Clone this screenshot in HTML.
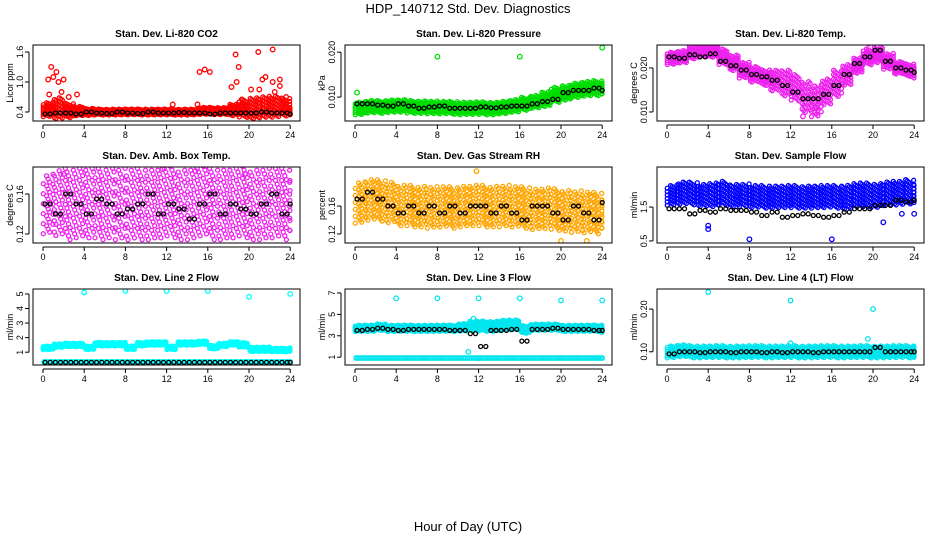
<!DOCTYPE html>
<html><head><meta charset="utf-8"><style>
body{margin:0;background:#fff;}
svg{display:block;font-family:"Liberation Sans",sans-serif;}
</style></head><body>
<svg id="c" width="936" height="540">
<text x="468" y="13" text-anchor="middle" font-size="13">HDP_140712 Std. Dev. Diagnostics</text>
<text x="468" y="531" text-anchor="middle" font-size="13">Hour of Day (UTC)</text>
</svg>
<script>
const hours=[0,1,2,3,4,5,6,7,8,9,10,11,12,13,14,15,16,17,18,19,20,21,22,23,24];
const titles=["Stan. Dev. Li-820 CO2","Stan. Dev. Li-820 Pressure","Stan. Dev. Li-820 Temp.","Stan. Dev. Amb. Box Temp.","Stan. Dev. Gas Stream RH","Stan. Dev. Sample Flow","Stan. Dev. Line 2 Flow","Stan. Dev. Line 3 Flow","Stan. Dev. Line 4 (LT) Flow"];
const ylabels=["Licor ppm","kPa","degrees C","degrees C","percent","ml/min","ml/min","ml/min","ml/min"];
const colors=["#ff0000","#00dd00","#ee22ee","#ee22ee","#ffa500","#0000ff","#00ffff","#00e5ee","#00e5ee"];
const ydomains=[[0.22,1.74],[0.00467,0.0216],[0.00795,0.0252],[0.111,0.187],[0.107,0.216],[0.44,2.68],[0.12,5.34],[0.27,7.37],[0.069,0.247]];
const yticks=[[0.4,1.0,1.6],[0.010,0.020],[0.010,0.020],[0.12,0.16],[0.12,0.16],[0.5,1.5],[1,2,3,4,5],[1,3,5,7],[0.10,0.20]];
const ytickLabels=[["0.4","1.0","1.6"],["0.010","0.020"],["0.010","0.020"],["0.12","0.16"],["0.12","0.16"],["0.5","1.5"],["1","2","3","4","5"],["1","3","5","7"],["0.10","0.20"]];
const bandCenter=[
[0.45,0.47,0.43,0.42,0.4,0.4,0.4,0.4,0.4,0.4,0.4,0.4,0.4,0.4,0.4,0.42,0.42,0.42,0.44,0.47,0.48,0.5,0.5,0.5,0.42],
[0.0075,0.0078,0.0078,0.008,0.008,0.0078,0.0078,0.0077,0.0076,0.0076,0.0075,0.0075,0.0075,0.0075,0.0077,0.008,0.0085,0.009,0.0095,0.0105,0.011,0.0115,0.0118,0.012,0.012],
[0.0222,0.0225,0.0235,0.024,0.0238,0.0225,0.0212,0.0195,0.0185,0.0178,0.0172,0.0165,0.0155,0.0135,0.0125,0.0145,0.0165,0.0185,0.0205,0.0225,0.023,0.0215,0.02,0.0195,0.019],
[0.15,0.15,0.15,0.152,0.15,0.15,0.152,0.15,0.148,0.15,0.15,0.15,0.152,0.15,0.15,0.152,0.15,0.15,0.15,0.152,0.15,0.15,0.15,0.15,0.15],
[0.165,0.168,0.168,0.166,0.16,0.16,0.16,0.158,0.158,0.158,0.16,0.16,0.16,0.16,0.16,0.158,0.158,0.156,0.156,0.155,0.154,0.152,0.15,0.15,0.15],
[1.85,1.9,1.9,1.85,1.85,1.9,1.85,1.85,1.8,1.8,1.8,1.8,1.8,1.8,1.8,1.8,1.8,1.8,1.85,1.85,1.85,1.9,1.9,1.95,1.9],
[1.3,1.45,1.5,1.5,1.3,1.55,1.55,1.55,1.3,1.55,1.6,1.6,1.3,1.6,1.6,1.65,1.35,1.5,1.6,1.5,1.2,1.2,1.15,1.15,1.2],
[3.7,3.7,3.8,3.7,3.7,3.7,3.7,3.7,3.7,3.7,3.8,3.9,3.9,3.9,4.0,4.0,3.6,3.8,3.8,3.8,3.7,3.7,3.7,3.7,3.6],
[0.1,0.102,0.1,0.1,0.1,0.1,0.1,0.1,0.1,0.1,0.1,0.1,0.1,0.1,0.1,0.1,0.1,0.1,0.1,0.1,0.1,0.1,0.1,0.1,0.1]];
const bandSpread=[
[0.12,0.18,0.12,0.08,0.06,0.05,0.05,0.05,0.05,0.05,0.05,0.05,0.05,0.05,0.05,0.06,0.06,0.06,0.1,0.15,0.18,0.18,0.18,0.15,0.07],
[0.0012,0.0012,0.0012,0.0012,0.0012,0.0012,0.0012,0.0012,0.0012,0.0012,0.0012,0.0012,0.0012,0.0012,0.0012,0.0012,0.0012,0.0012,0.0014,0.0014,0.0014,0.0014,0.0014,0.0014,0.0012],
[0.0012,0.0012,0.0012,0.0012,0.0012,0.0015,0.0015,0.0015,0.0015,0.0015,0.002,0.0025,0.0025,0.003,0.003,0.0025,0.0025,0.002,0.0015,0.0015,0.0015,0.0015,0.0012,0.0012,0.0012],
[0.025,0.028,0.03,0.03,0.03,0.03,0.03,0.03,0.03,0.03,0.03,0.03,0.03,0.03,0.03,0.03,0.03,0.03,0.03,0.03,0.03,0.03,0.03,0.03,0.025],
[0.025,0.025,0.025,0.025,0.025,0.025,0.025,0.025,0.025,0.025,0.025,0.025,0.025,0.025,0.025,0.025,0.025,0.025,0.025,0.025,0.025,0.025,0.025,0.025,0.02],
[0.25,0.28,0.28,0.28,0.3,0.3,0.28,0.28,0.28,0.28,0.28,0.28,0.28,0.28,0.28,0.28,0.28,0.3,0.3,0.3,0.3,0.3,0.3,0.3,0.25],
[0.1,0.1,0.1,0.1,0.1,0.1,0.1,0.1,0.1,0.1,0.1,0.1,0.1,0.1,0.1,0.1,0.1,0.1,0.1,0.13,0.13,0.13,0.1,0.1,0.1],
[0.25,0.25,0.25,0.25,0.25,0.25,0.25,0.25,0.25,0.25,0.3,0.4,0.4,0.4,0.4,0.4,0.3,0.25,0.25,0.25,0.25,0.25,0.25,0.25,0.25],
[0.012,0.012,0.012,0.012,0.012,0.012,0.012,0.012,0.012,0.012,0.012,0.012,0.012,0.012,0.012,0.012,0.012,0.012,0.012,0.012,0.012,0.012,0.012,0.012,0.012]];
const lowBand=[null,null,null,null,null,null,0.3,0.9,null];
const blackVals=[
[0.36,0.38,0.38,0.36,0.4,0.38,0.37,0.4,0.38,0.37,0.4,0.38,0.38,0.39,0.38,0.38,0.36,0.38,0.38,0.38,0.38,0.4,0.38,0.38,0.36],
[0.0085,0.0085,0.0082,0.008,0.0085,0.008,0.0075,0.0078,0.008,0.0075,0.0075,0.0075,0.0078,0.0076,0.0078,0.008,0.008,0.0085,0.009,0.0095,0.011,0.0115,0.0115,0.012,0.0115],
[0.0225,0.0222,0.023,0.0225,0.0232,0.0215,0.0205,0.0195,0.0185,0.018,0.0172,0.016,0.0145,0.013,0.013,0.014,0.016,0.0185,0.021,0.0225,0.024,0.0215,0.02,0.0195,0.019],
[0.15,0.14,0.16,0.15,0.14,0.155,0.15,0.14,0.145,0.15,0.16,0.14,0.15,0.145,0.135,0.15,0.16,0.14,0.15,0.145,0.14,0.15,0.16,0.14,0.15],
[0.17,0.18,0.17,0.16,0.15,0.16,0.15,0.16,0.15,0.16,0.15,0.16,0.16,0.15,0.16,0.15,0.14,0.16,0.16,0.15,0.14,0.16,0.15,0.14,0.165],
[1.45,1.45,1.3,1.4,1.35,1.45,1.4,1.4,1.35,1.25,1.35,1.2,1.25,1.3,1.25,1.2,1.25,1.35,1.45,1.45,1.55,1.55,1.7,1.65,1.7],
[0.3,0.3,0.3,0.3,0.3,0.3,0.3,0.3,0.3,0.3,0.3,0.3,0.3,0.3,0.3,0.3,0.3,0.3,0.3,0.3,0.3,0.3,0.3,0.3,0.3],
[3.5,3.6,3.7,3.6,3.5,3.6,3.6,3.6,3.6,3.5,3.5,3.2,2.0,3.5,3.5,3.6,2.5,3.6,3.6,3.7,3.6,3.6,3.6,3.5,3.5],
[0.095,0.1,0.1,0.098,0.1,0.1,0.098,0.1,0.1,0.098,0.1,0.098,0.1,0.1,0.098,0.1,0.1,0.1,0.1,0.1,0.11,0.1,0.1,0.1,0.1]];
const outliers=[
[[0.5,1.05],[0.8,1.3],[1,1.1],[1.3,1.2],[1.5,1.0],[2,1.05],[0.6,0.75],[2.5,0.7],[3.3,0.75],[15.2,1.2],[15.7,1.25],[16.2,1.2],[18.7,1.55],[19,1.3],[18.8,1.0],[18.3,0.9],[20.9,1.6],[22.3,1.65],[21.3,1.05],[21.6,1.1],[22.3,1.0],[23,1.05],[23,0.92],[20.2,0.85],[21,0.85],[22.5,0.8],[23.6,0.7],[12.6,0.55],[15,0.55],[1.8,0.8],[19.3,0.65]],
[[8,0.019],[16,0.019],[24,0.021],[0.2,0.011]],
[[13.2,0.009],[19.6,0.0255],[14.5,0.011]],
[[2,0.18],[11.6,0.185],[14.8,0.183],[19.6,0.18]],
[[11.8,0.21],[20,0.11],[22.5,0.11]],
[[8,0.55],[16,0.55],[4,0.95],[4,0.85],[21,1.05],[22.8,1.3],[24,1.3]],
[[4,5.1],[8,5.2],[12,5.2],[16,5.2],[20,4.8],[24,5.0]],
[[4,6.5],[8,6.5],[12,6.5],[16,6.5],[20,6.3],[24,6.3],[11.5,4.6],[11,1.5],[12,0.9]],
[[4,0.24],[12,0.22],[20,0.2],[19.5,0.13],[12,0.12]]];
const xticks=[0,4,8,12,16,20,24];

const NS="http://www.w3.org/2000/svg";
const svg=document.getElementById('c');
function mk(tag,attrs,parent){const e=document.createElementNS(NS,tag);for(const k in attrs)e.setAttribute(k,attrs[k]);(parent||svg).appendChild(e);return e;}
const jx=[0.1,0.3,0.5,0.7,0.9];
const jy=[-1,-0.6,-0.2,0.2,0.6,1];
for(let p=0;p<9;p++){
  const col=p%3,row=Math.floor(p/3);
  const L=33+col*312,T=45+row*122,W=267,H=76;
  const g=mk('g',{});
  
  
  const [lo,hi]=ydomains[p];
  const xs=h=>L+10+h*10.3;
  const ys=v=>T+H-(v-lo)/(hi-lo)*H;
  const t=mk('text',{x:L+W/2,y:T-8,'text-anchor':'middle','font-size':10,'font-weight':'bold'},g);
  t.textContent=titles[p];
  
  
  const yl=mk('text',{x:0,y:0,'text-anchor':'middle','font-size':9,transform:`translate(${L-20},${T+H/2}) rotate(-90)`},g);
  yl.textContent=ylabels[p];
  
  
  const clip=mk('clipPath',{id:'cp'+p},g);mk('rect',{x:L,y:T,width:W,height:H},clip);
  const pts=mk('g',{'clip-path':`url(#cp${p})`,fill:'none','stroke-width':1.3},g);
  
  
  const c=colors[p];
  for(let i=0;i<hours.length;i++){
    const last=i===hours.length-1;
    jx.forEach((fx,a)=>{
      if(last&&a>0)return;
      const h=hours[i]+fx-(last?0.1:0);
      jy.forEach((fy,b)=>{
        const jit=(((i*3+a*5+b*7)%7)-3)/8;
        const v=bandCenter[p][i]+(fy+jit*0.5)*bandSpread[p][i];
        mk('circle',{cx:xs(h)+jit*2,cy:ys(v),r:2,stroke:c},pts);
      });
      if(lowBand[p]!==null){
        mk('circle',{cx:xs(h),cy:ys(lowBand[p]),r:2,stroke:c},pts);
        mk('circle',{cx:xs(h),cy:ys(lowBand[p]+0.05),r:2,stroke:c},pts);
      }
    });
  }
  for(const [h,v] of outliers[p]) mk('circle',{cx:xs(h),cy:ys(v),r:2.3,stroke:c},pts);
  for(let i=0;i<hours.length;i++){
    for(const off of [0.2,0.7]){
      if(i===hours.length-1&&off>0.2)continue;
      mk('circle',{cx:xs(hours[i]+off-(i===hours.length-1?0.2:0)),cy:ys(blackVals[p][i]),r:2,stroke:'#000'},pts);
    }
  }
  const box=mk('rect',{x:L,y:T,width:W,height:H,fill:'none',stroke:'#000','stroke-width':1},g);
  
  
  mk('line',{x1:xs(0),x2:xs(24),y1:T+H+4,y2:T+H+4,stroke:'#000'},g);
  for(const h of xticks){
    mk('line',{x1:xs(h),x2:xs(h),y1:T+H+4,y2:T+H+8,stroke:'#000'},g);
    const tl=mk('text',{x:xs(h),y:T+H+17,'text-anchor':'middle','font-size':9},g);
    tl.textContent=h;
    
    
  }
  const yt=yticks[p];
  mk('line',{x1:L-4,x2:L-4,y1:ys(yt[0]),y2:ys(yt[yt.length-1]),stroke:'#000'},g);
  yt.forEach((v,k)=>{
    mk('line',{x1:L-8,x2:L-4,y1:ys(v),y2:ys(v),stroke:'#000'},g);
    const tl=mk('text',{x:0,y:0,'text-anchor':'middle','font-size':9,transform:`translate(${L-10},${ys(v)}) rotate(-90)`},g);
    tl.textContent=ytickLabels[p][k];
    
    
  });
}
</script>
</body></html>
